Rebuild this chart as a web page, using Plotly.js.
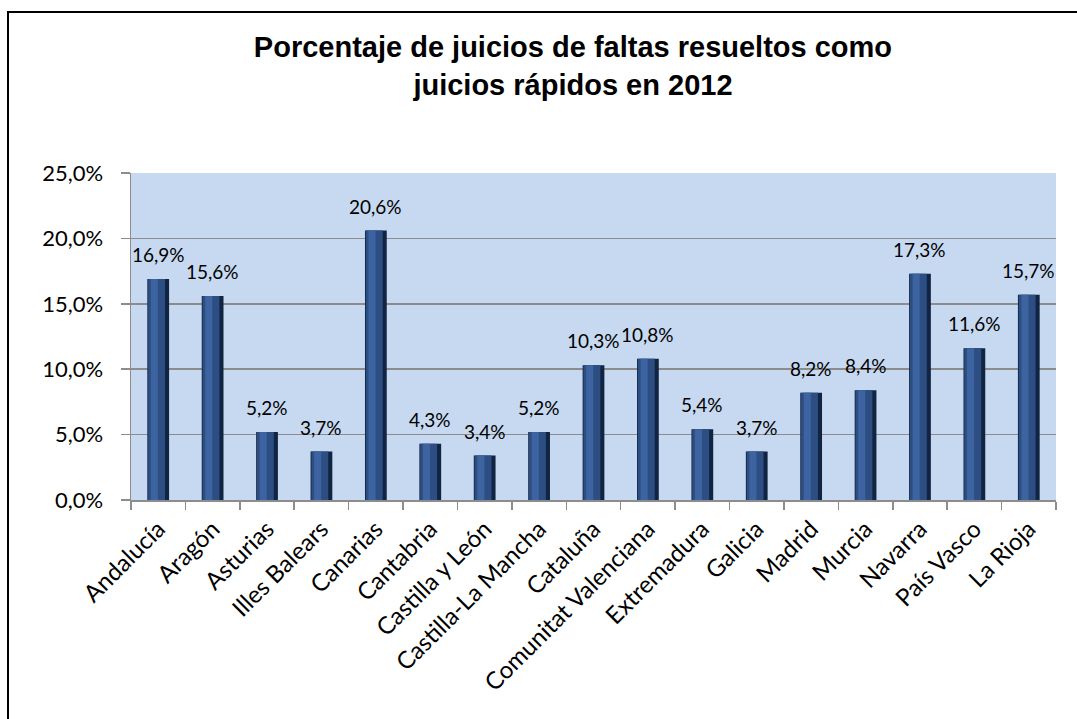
<!DOCTYPE html>
<html>
<head>
<meta charset="utf-8">
<script src="https://cdn.plot.ly/plotly-3.0.1.min.js"></script>
<style>html,body{margin:0;padding:0;background:#fff;}#chart{width:1077px;height:719px;}</style>
</head>
<body>
<div id="chart"></div>
<script>
const categories = ["Andalucía","Aragón","Asturias","Illes Balears","Canarias","Cantabria","Castilla y León","Castilla-La Mancha","Cataluña","Comunitat Valenciana","Extremadura","Galicia","Madrid","Murcia","Navarra","País Vasco","La Rioja"];
const values = [16.9,15.6,5.2,3.7,20.6,4.3,3.4,5.2,10.3,10.8,5.4,3.7,8.2,8.4,17.3,11.6,15.7];
const yTicks = [0,5,10,15,20,25];
const titleText = "Porcentaje de juicios de faltas resueltos como<br>juicios rápidos en 2012";

const labelFont = "Lato, 'Open Sans', sans-serif";
const fmt = v => v.toFixed(1).replace('.', ',') + '%';

const base = {
  type: 'bar', x: categories, y: values,
  width: 0.40, offset: -0.20,
  marker: {color: '#112543', line: {width: 0}},
  hoverinfo: 'skip', showlegend: false
};
const mid = {
  type: 'bar', x: categories, y: values,
  width: 0.31, offset: -0.185,
  marker: {color: '#2C4E83', line: {width: 0}},
  hoverinfo: 'skip', showlegend: false
};
const hi = {
  type: 'bar', x: categories, y: values,
  width: 0.13, offset: -0.135,
  marker: {color: '#3D64A0', line: {width: 0}},
  hoverinfo: 'skip', showlegend: false
};

const annotations = categories.map((c, i) => ({
  x: c, y: values[i], xref: 'x', yref: 'y',
  text: fmt(values[i]),
  showarrow: false, yanchor: 'bottom', yshift: 11,
  font: {family: labelFont, size: 19, color: '#000'}
}));

const layout = {
  width: 1077, height: 719,
  margin: {l: 131, r: 21, t: 173, b: 219},
  paper_bgcolor: '#ffffff',
  plot_bgcolor: '#C6D9F1',
  barmode: 'overlay',
  separators: ',.',
  title: {
    text: titleText,
    font: {family: "'Liberation Sans', Arial, sans-serif", size: 29, color: '#000', weight: 'bold'},
    x: 0.532, xanchor: 'center', xref: 'container',
    y: 1 - 57/719, yanchor: 'top', yref: 'container'
  },
  xaxis: {
    type: 'category',
    tickangle: -45,
    tickson: 'boundaries',
    ticks: 'outside', ticklen: 8, tickwidth: 1.5, tickcolor: '#8C8C8C',
    showline: true, linecolor: '#8C8C8C', linewidth: 1.5,
    showgrid: false,
    tickfont: {family: labelFont, size: 24, color: '#000'},
    ticklabelstandoff: 4,
    range: [-0.5, 16.5]
  },
  yaxis: {
    range: [0, 25],
    tickmode: 'array',
    tickvals: yTicks,
    ticktext: yTicks.map(fmt),
    ticks: 'outside', ticklen: 9, tickwidth: 1.5, tickcolor: '#8C8C8C',
    showline: true, linecolor: '#8C8C8C', linewidth: 1.5,
    showgrid: true, gridcolor: '#8C8C8C', gridwidth: 1.5,
    zeroline: false,
    tickfont: {family: labelFont, size: 22, color: '#000'},
    ticklabelstandoff: 13
  },
  shapes: [{
    type: 'rect', xref: 'paper', yref: 'paper',
    x0: (8 - 131) / 925, x1: 1.2,
    y0: -1, y1: (500 - 12) / 327,
    line: {color: '#000', width: 2}, fillcolor: 'rgba(0,0,0,0)', layer: 'above'
  }],
  annotations: annotations
};

Plotly.newPlot('chart', [base, mid, hi], layout, {displayModeBar: false, staticPlot: true});
</script>
</body>
</html>
